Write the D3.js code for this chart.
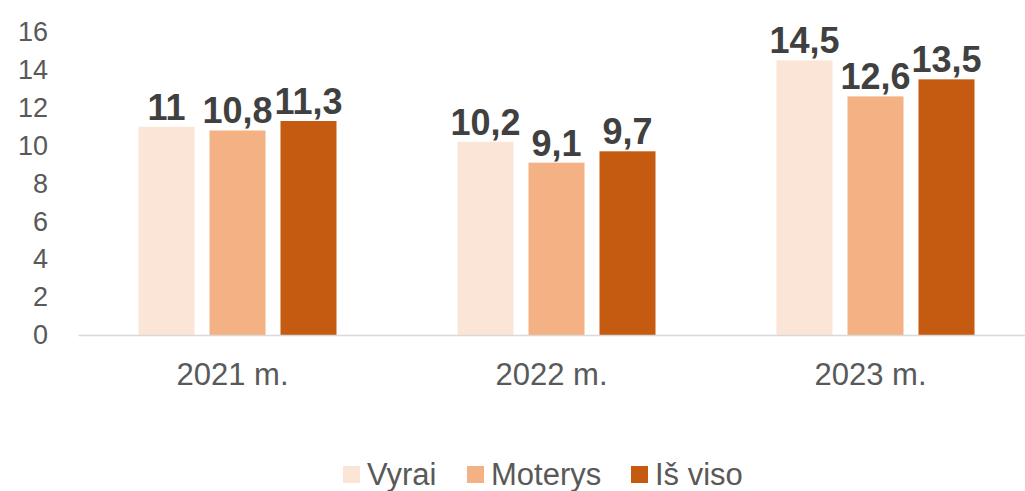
<!DOCTYPE html>
<html>
<head>
<meta charset="utf-8">
<script src="https://cdn.jsdelivr.net/npm/d3@7"></script>
<style>
  html, body { margin: 0; padding: 0; background: #fff; }
  svg { display: block; font-family: "Liberation Sans", Arial, sans-serif; }
</style>
</head>
<body>
<svg id="chart" width="1025" height="491"></svg>
<script>
const categories = ["2021 m.", "2022 m.", "2023 m."];
const seriesNames = ["Vyrai", "Moterys", "Iš viso"];
const vyrai = [11, 10.2, 14.5];
const moterys = [10.8, 9.1, 12.6];
const isViso = [11.3, 9.7, 13.5];
const yTicks = [0, 2, 4, 6, 8, 10, 12, 14, 16];
const colors = ["#FBE5D6", "#F4B183", "#C55A11"];

const seriesValues = [vyrai, moterys, isViso];
const svg = d3.select("#chart");

const y = d3.scaleLinear().domain([0, 16]).range([335, 32]);
const x = d3.scaleBand().domain(categories).range([78, 1035]).paddingInner(0).paddingOuter(0);
const xs = d3.scaleBand().domain(seriesNames).range([-106.5, 106.5]).paddingInner(15/71).paddingOuter(15/142);

// y axis labels
const yAxis = d3.axisLeft(y).tickValues(yTicks).tickSize(0).tickPadding(0).tickFormat(d3.format("d"));
const gy = svg.append("g").attr("transform", "translate(48,0)").call(yAxis);
gy.select(".domain").remove();
gy.selectAll("text").attr("fill", "#595959").style("font-size", "27px")
  .style("font-family", "'Liberation Sans', Arial, sans-serif");

// bars
const rows = [];
categories.forEach((c, i) => {
  seriesNames.forEach((s, j) => rows.push({cat: c, ser: s, val: seriesValues[j][i], j}));
});

const center = c => x(c) + x.bandwidth() / 2;

svg.append("g").selectAll("rect").data(rows).join("rect")
  .attr("x", d => center(d.cat) + xs(d.ser))
  .attr("y", d => y(d.val))
  .attr("width", xs.bandwidth())
  .attr("height", d => y(0) - y(d.val))
  .attr("fill", d => colors[d.j]);

// x axis line
const xAxis = d3.axisBottom(x).tickSize(0).tickPadding(0).tickFormat(() => "");
const gx = svg.append("g").attr("transform", `translate(0,${y(0)})`).call(xAxis);
gx.select(".domain").attr("stroke", "#D9D9D9").attr("stroke-width", 1.5);

// x labels
svg.append("g").selectAll("text").data(categories).join("text")
  .attr("x", d => center(d) - 5)
  .attr("y", 385)
  .attr("text-anchor", "middle")
  .attr("fill", "#595959")
  .style("font-size", "31px")
  .text(d => d);

// data labels
const fmt = v => String(v).replace(".", ",");
svg.append("g").selectAll("text").data(rows).join("text")
  .attr("x", d => center(d.cat) + xs(d.ser) + xs.bandwidth() / 2)
  .attr("y", d => y(d.val) - 7)
  .attr("text-anchor", "middle")
  .attr("fill", "#404040")
  .style("font-size", "36px")
  .style("font-weight", "bold")
  .text(d => fmt(d.val));

// legend
const legendX = [343, 467, 631];
const lg = svg.append("g");
seriesNames.forEach((s, i) => {
  lg.append("rect").attr("x", legendX[i]).attr("y", 466).attr("width", 17).attr("height", 17).attr("fill", colors[i]);
  lg.append("text").attr("x", legendX[i] + 24).attr("y", 485)
    .attr("fill", "#595959").style("font-size", "31px").text(s);
});
</script>
</body>
</html>
